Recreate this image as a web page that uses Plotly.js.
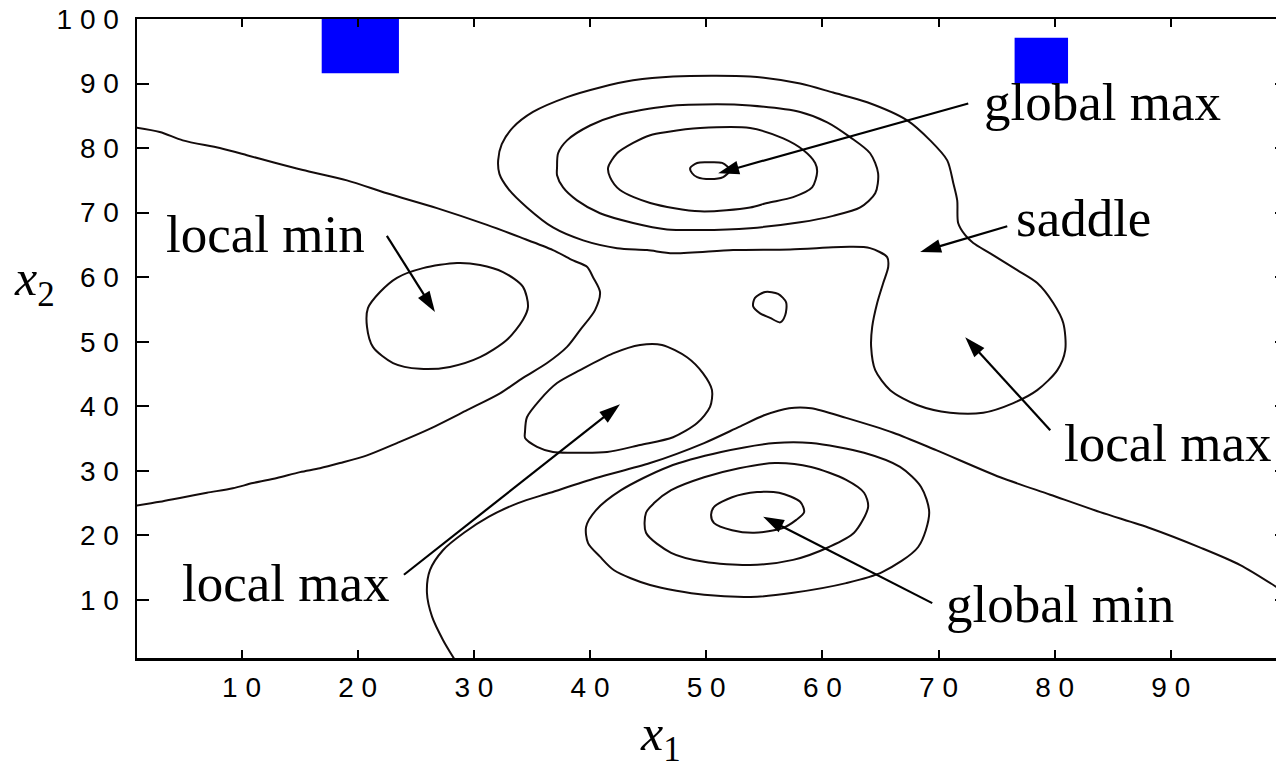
<!DOCTYPE html>
<html><head><meta charset="utf-8">
<script src="https://cdn.plot.ly/plotly-3.0.1.min.js"></script>
<style>html,body{margin:0;padding:0;overflow:hidden;background:#fff}#chart{width:1290px;height:767px}</style>
</head><body><div id="chart"></div>
<script>
// ---- contour lines (data units) ----
const sepX = [0.5,2.96,4.94,8.13,10.46,12.7,15.28,19.07,22.51,26.82,31.13,33.97,36.81,38.54,39.74,40.26,40.86,40.43,39.14,38.02,36.3,34.23,32.25,29.41,25.96,23.38,20.8,18.47,16.75,15.03,13.05,10.98,9.25,7.02,4.69,2.96,0.5];
const sepY = [83.3,82.5,81.2,80.0,78.9,77.8,76.6,75.0,73.0,70.7,68.1,66.2,64.2,62.6,61.6,60.0,57.7,54.9,51.8,49.2,46.7,44.4,42.0,39.4,36.3,34.3,32.4,31.2,30.4,29.8,28.9,28.1,27.3,26.6,25.8,25.2,24.5];

const localMinX = [20.88,20.8,21.31,23.04,25.36,27.94,30.53,32.85,34.23,34.66,34.23,32.51,30.53,28.55,25.62,23.38,21.92];
const localMinY = [55.2,52.3,49.2,46.7,45.8,46.1,47.6,50.3,53.4,55.4,58.5,60.8,61.9,62.2,61.4,59.9,57.7];

const midMaxX = [34.4,34.57,35.69,37.16,39.14,41.98,44.31,46.2,48.35,49.73,50.5,50.33,49.22,47.15,44.31,41.47,38.54,36.81,35.44,34.4];
const midMaxY = [36.0,38.3,41.0,43.6,45.6,48.2,49.5,49.5,47.6,45.1,42.5,39.9,37.4,35.2,34.0,32.9,32.8,32.9,33.7,35.1];

const blobX = [54.2,55.08,56.19,56.88,56.8,56.37,55.5,54.64,54.04];
const blobY = [56.8,57.7,57.4,56.1,54.1,53.0,53.7,54.4,55.5];

const gmaxTinyX = [48.62,49.22,50.08,51.37,52.06,51.46,50.34,49.22,48.79];
const gmaxTinyY = [76.9,77.7,77.8,77.7,76.6,75.5,75.2,75.5,76.1];

const gmaxInnerX = [41.56,42.33,43.71,45.18,46.63,49.48,53.78,56.63,58.35,59.38,59.55,59.12,57.49,55.25,53.78,49.48,45.18,42.58,41.72];
const gmaxInnerY = [77.0,79.2,80.8,82.0,82.5,83.1,83.1,81.5,79.7,77.7,76.3,73.9,72.4,71.5,70.8,70.2,71.5,73.5,75.5];

const gmaxMidX = [37.16,37.25,38.02,40.0,42.33,46.63,50.94,53.78,58.09,60.42,62.39,64.11,64.8,64.55,63.26,60.93,58.09,53.78,49.48,46.63,43.71,40.86,38.88,37.68,37.16];
const gmaxMidY = [77.0,79.2,81.2,83.5,85.1,86.5,86.8,86.6,85.6,84.0,81.7,79.2,76.1,73.0,70.8,69.5,68.5,67.6,67.3,67.4,68.4,69.9,71.9,73.9,75.8];

const outerX = [32.09,32.4,33.37,35.09,38.02,40.86,43.71,47.15,53.78,58.09,60.93,63.86,67.3,69.28,70.75,71.27,71.61,71.69,72.3,72.99,74.45,76.78,78.5,79.88,80.74,80.91,80.23,78.5,76.44,73.85,71.0,68.16,65.84,64.55,64.2,64.29,64.72,65.24,65.67,65.58,64.11,62.39,57.23,52.32,47.15,44.91,42.33,39.41,36.81,34.57,33.0,32.2];
const outerY = [78.1,80.6,83.2,85.6,87.9,89.4,90.5,91.1,91.1,90.0,88.6,87.1,84.3,81.2,78.1,74.6,71.9,68.4,66.5,65.3,63.7,61.1,59.1,56.0,52.9,48.7,45.6,42.5,40.5,39.0,39.0,40.2,42.5,45.6,49.2,52.3,56.0,59.1,61.6,63.1,64.5,64.7,64.3,64.2,63.7,64.2,64.5,65.7,67.7,70.8,73.6,76.0];

const lowSepX = [28.4,27.34,26.4,25.96,26.22,27.34,29.15,31.3,33.8,36.56,40.52,45.17,49.82,52.83,54.99,57.14,59.04,62.05,66.1,69.8,75.31,79.62,83.92,88.23,92.54,95.98,99.09,100.5];
const lowSepY = [0.6,3.8,7.4,11.1,14.6,17.7,20.4,22.9,25.0,26.6,28.9,31.2,34.3,36.8,38.6,39.7,39.7,38.2,35.9,33.2,29.0,26.3,23.6,21.1,18.1,15.4,12.0,10.3];

const gminOuterX = [39.66,39.83,40.86,42.07,45.17,49.82,54.38,57.48,62.05,65.15,68.25,69.2,68.5,66.69,63.59,59.03,55.93,51.29,46.71,42.67,40.52];
const gminOuterY = [21.3,18.8,16.7,14.6,12.3,10.8,10.5,11.1,12.6,14.3,18.2,23.5,27.5,30.6,32.8,34.3,34.3,32.9,30.6,27.0,23.9];

const gminMidX = [44.82,44.82,46.98,49.82,53.78,57.48,60.58,62.73,63.94,63.59,62.05,59.03,55.93,52.83,49.82,46.98,45.51];
const gminMidY = [23.5,20.4,17.3,15.9,15.4,16.2,18.2,20.4,24.4,26.6,28.6,30.6,31.2,30.4,29.0,27.0,25.0];

const gminInnerX = [50.42,50.68,52.23,54.12,56.53,57.76,58.43,58.09,56.27,54.38,52.23,50.68];
const gminInnerY = [23.2,21.9,20.8,20.4,21.1,22.4,23.6,25.2,26.6,26.7,25.9,24.4];

// ---- blue patches ----
const patchLeftX = [16.9, 23.55];
const patchLeftY = [91.6, 100.5];
const patchRightX = [76.55, 81.15];
const patchRightY = [90.0, 97.1];

// ---- labels & arrows ----
const labelText = ['global max','saddle','local min','local max','local max','global min'];
const labelX = [73.75,76.5,3.35,80.65,4.7,70.5];
const labelY = [87.1,69.1,66.7,34.3,12.6,9.4];
const arrowTailX = [72.56,75.92,22.51,79.62,23.98,69.46];
const arrowTailY = [86.9,67.9,66.4,36.3,13.9,9.5];
const arrowTipX = [51.03,68.42,26.65,72.3,42.58,54.9];
const arrowTipY = [76.1,63.9,54.6,50.7,40.3,22.9];

// ---- ticks ----
const xTickVals = [10,20,30,40,50,60,70,80,90];
const xTickText = ['1 0','2 0','3 0','4 0','5 0','6 0','7 0','8 0','9 0'];
const yTickVals = [10,20,30,40,50,60,70,80,90,100];
const yTickText = ['1 0','2 0','3 0','4 0','5 0','6 0','7 0','8 0','9 0','1 0 0'];

const lineColor = '#140c0c';
function closed(a){ return a.concat([a[0]]); }
function curve(x, y, isClosed){
  return {type:'scatter', mode:'lines', x: isClosed?closed(x):x, y: isClosed?closed(y):y,
    line:{color:lineColor, width:2, shape:'spline', smoothing:0.8}, hoverinfo:'skip', showlegend:false};
}
function rect(xs, ys){
  return {type:'scatter', mode:'lines', x:[xs[0],xs[1],xs[1],xs[0],xs[0]], y:[ys[0],ys[0],ys[1],ys[1],ys[0]],
    fill:'toself', fillcolor:'#0000ff', line:{width:0, color:'#0000ff'}, hoverinfo:'skip', showlegend:false};
}
function arrow(i){
  return {type:'scatter', mode:'lines+markers', x:[arrowTailX[i], arrowTipX[i]], y:[arrowTailY[i], arrowTipY[i]],
    line:{color:'#000', width:2.2},
    marker:{symbol:['circle','arrow'], size:[1,22], opacity:[0,1], color:'#000', angleref:'previous', line:{width:0}},
    cliponaxis:false, hoverinfo:'skip', showlegend:false};
}
const traces = [
  curve(sepX, sepY, false),
  curve(localMinX, localMinY, true),
  curve(midMaxX, midMaxY, true),
  curve(blobX, blobY, true),
  curve(gmaxTinyX, gmaxTinyY, true),
  curve(gmaxInnerX, gmaxInnerY, true),
  curve(gmaxMidX, gmaxMidY, true),
  curve(outerX, outerY, true),
  curve(lowSepX, lowSepY, false),
  curve(gminOuterX, gminOuterY, true),
  curve(gminMidX, gminMidY, true),
  curve(gminInnerX, gminInnerY, true),
  rect(patchLeftX, patchLeftY),
  rect(patchRightX, patchRightY)
];
for (let i = 0; i < arrowTipX.length; i++) traces.push(arrow(i));

const serif = 'Liberation Serif, Times New Roman, serif';
const annotations = [];
for (let i = 0; i < labelText.length; i++) {
  annotations.push({x: labelX[i], y: labelY[i], xref:'x', yref:'y', text: labelText[i], showarrow:false,
    xanchor:'left', yanchor:'middle', font:{family: serif, size:53, color:'#000'}});
}
annotations.push({xref:'paper', yref:'paper', x:0.455, y:-0.1238, text:'<i>x</i><sub>1</sub>', showarrow:false,
  xanchor:'center', yanchor:'middle', font:{family: serif, size:50, color:'#000'}});
annotations.push({xref:'paper', yref:'paper', x:-0.089, y:0.588, text:'<i>x</i><sub>2</sub>', showarrow:false,
  xanchor:'center', yanchor:'middle', font:{family: serif, size:50, color:'#000'}});

const layout = {
  width:1290, height:767,
  margin:{l:137, r:3, t:19, b:109},
  paper_bgcolor:'#fff', plot_bgcolor:'#fff',
  showlegend:false, hovermode:false,
  xaxis:{range:[1,100], tickvals:xTickVals, ticktext:xTickText, ticks:'inside', ticklen:8, tickwidth:2,
    tickcolor:'#000', showline:true, linecolor:'#000', linewidth:2.5, mirror:'ticks', showgrid:false, zeroline:false,
    tickfont:{family:'Liberation Sans, Arial, sans-serif', size:28, color:'#000'}, ticklabelstandoff:3},
  yaxis:{range:[1,100], tickvals:yTickVals, ticktext:yTickText, ticks:'inside', ticklen:12, tickwidth:2,
    tickcolor:'#000', showline:true, linecolor:'#000', linewidth:2.5, mirror:'ticks', showgrid:false, zeroline:false,
    tickfont:{family:'Liberation Sans, Arial, sans-serif', size:28, color:'#000'}, ticklabelstandoff:10},
  annotations: annotations
};
Plotly.newPlot('chart', traces, layout, {displayModeBar:false, staticPlot:true});
</script></body></html>
